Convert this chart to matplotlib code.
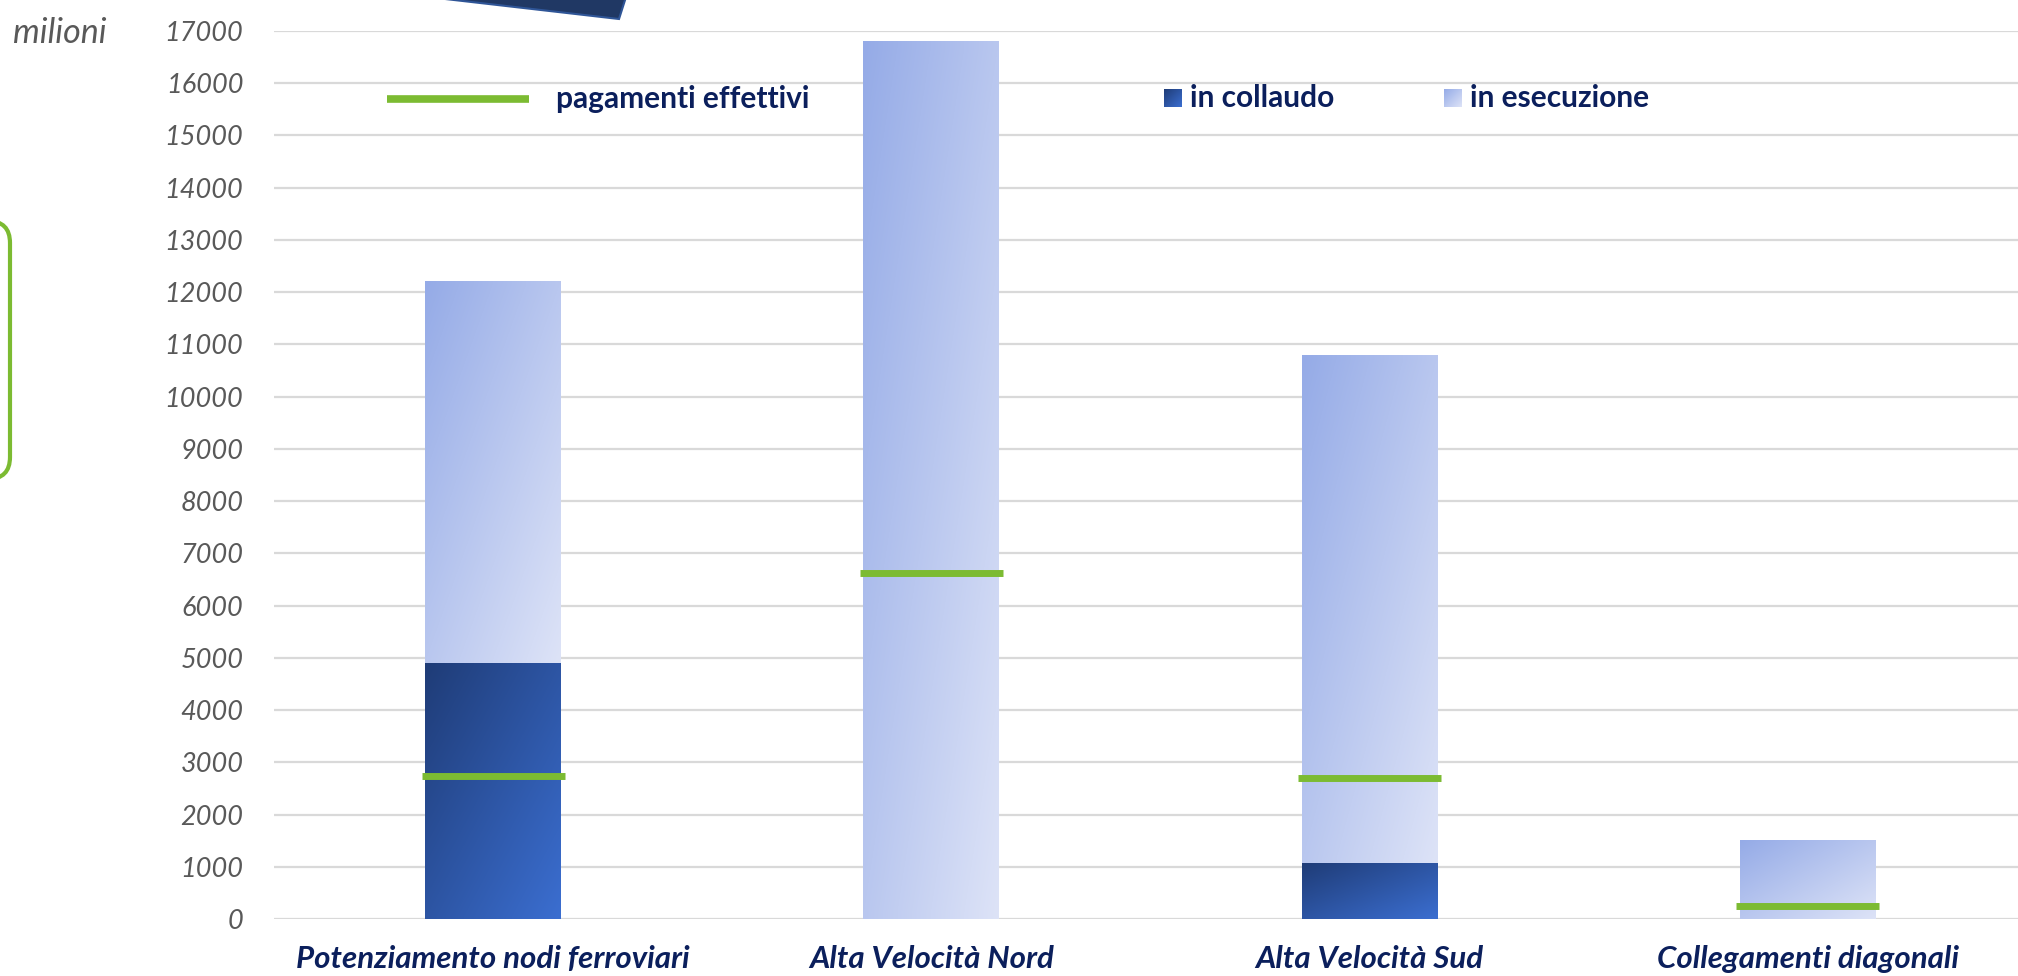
import numpy as np
import matplotlib
matplotlib.use("Agg")
import matplotlib.pyplot as plt
from matplotlib import transforms
from matplotlib.patches import Polygon, FancyBboxPatch
from matplotlib.lines import Line2D
from matplotlib.colors import to_rgb

# data (milioni di euro)
categories = ["Potenziamento nodi ferroviari", "Alta Velocità Nord",
              "Alta Velocità Sud", "Collegamenti diagonali"]
in_collaudo = [4900, 0, 1080, 0]
in_esecuzione = [7300, 16800, 9720, 1500]
pagamenti = [2730, 6620, 2700, 250]
yticks = list(range(0, 17001, 1000))

navy = "#0B1F5C"
grey = "#595959"
green = "#7CBB32"
coll_c = ("#1F3C77", "#3B6ED0")
esec_c = ("#95ABE7", "#DDE3F7")

W, H = 2018, 976
fig = plt.figure(figsize=(W / 100, H / 100), dpi=100)
# pixel coords, origin top-left
px = transforms.Affine2D().scale(1 / W, -1 / H).translate(0, 1) + fig.transFigure


def grad(c0, c1, n=64):
    u = np.linspace(0, 1, n)
    U, V = np.meshgrid(u, u)
    t = ((U + V) / 2)[..., None]
    a, b = np.array(to_rgb(c0)), np.array(to_rgb(c1))
    return a + (b - a) * t


ax = fig.add_axes([274 / W, (H - 919) / H, (2027 - 274) / W, (919 - 31) / H])

x = np.arange(len(categories))
bw = 0.31
b1 = ax.bar(x, in_collaudo, bw, zorder=2)
b2 = ax.bar(x, in_esecuzione, bw, bottom=in_collaudo, zorder=2)
for bars, (c0, c1) in ((b1, coll_c), (b2, esec_c)):
    for r in bars:
        r.set_facecolor("none")
        r.set_linewidth(0)
        if r.get_height() > 0:
            ax.imshow(grad(c0, c1), extent=(r.get_x(), r.get_x() + r.get_width(),
                                            r.get_y(), r.get_y() + r.get_height()),
                      origin="upper", aspect="auto", interpolation="bilinear", zorder=2)

ax.hlines(pagamenti, x - bw / 2 - 0.008, x + bw / 2 + 0.008, colors=green,
          linewidth=5, zorder=3, capstyle="butt")

ax.set_xlim(-0.5, 3.5)
ax.set_ylim(0, 17000)
ax.set_yticks(yticks)
ax.set_yticklabels([str(v) for v in yticks], fontfamily="Lato", fontstyle="italic",
                   fontsize=19.5, color=grey)
ax.set_xticks(x)
ax.set_xticklabels(categories, fontfamily="Lato", fontstyle="italic", fontweight="bold",
                   fontsize=22.5, color=navy)
ax.tick_params(length=0)
ax.tick_params(axis="y", pad=22)
ax.tick_params(axis="x", pad=19)
ax.grid(axis="y", color="#D9D9D9", linewidth=1.6)
ax.set_axisbelow(True)
for s in ax.spines.values():
    s.set_visible(False)

fig.text(13 / W, 1 - 33 / H, "milioni", fontfamily="Lato", fontstyle="italic",
         fontsize=24.5, color=grey, va="center", ha="left")

# legend
fig.add_artist(Line2D([387, 529], [99, 99], transform=px, color=green, linewidth=5.5,
                      solid_capstyle="butt"))
fig.text(556 / W, 1 - 99 / H, "pagamenti effettivi", fontfamily="Lato", fontweight="bold",
         fontsize=21.5, color=navy, va="center", ha="left")
for x0, label, (c0, c1) in ((1164, "in collaudo", coll_c), (1444, "in esecuzione", esec_c)):
    sax = fig.add_axes([x0 / W, 1 - 107 / H, 18 / W, 18 / H])
    sax.imshow(grad(c0, c1), aspect="auto", interpolation="bilinear")
    sax.axis("off")
    fig.text((x0 + 26) / W, 1 - 98 / H, label, fontfamily="Lato", fontweight="bold",
             fontsize=21.5, color=navy, va="center", ha="left")

# slide decorations partly in view
fig.add_artist(Polygon([(428, -3), (626, -3), (619, 19)], closed=True, transform=px,
                       facecolor="#203864", edgecolor="#2F5597", linewidth=1.5))
fig.add_artist(FancyBboxPatch((-80, 221), 90, 258, boxstyle="round,pad=0,rounding_size=22",
                              transform=px, facecolor="none", edgecolor=green, linewidth=3))

fig.savefig("out.png", dpi=100)
